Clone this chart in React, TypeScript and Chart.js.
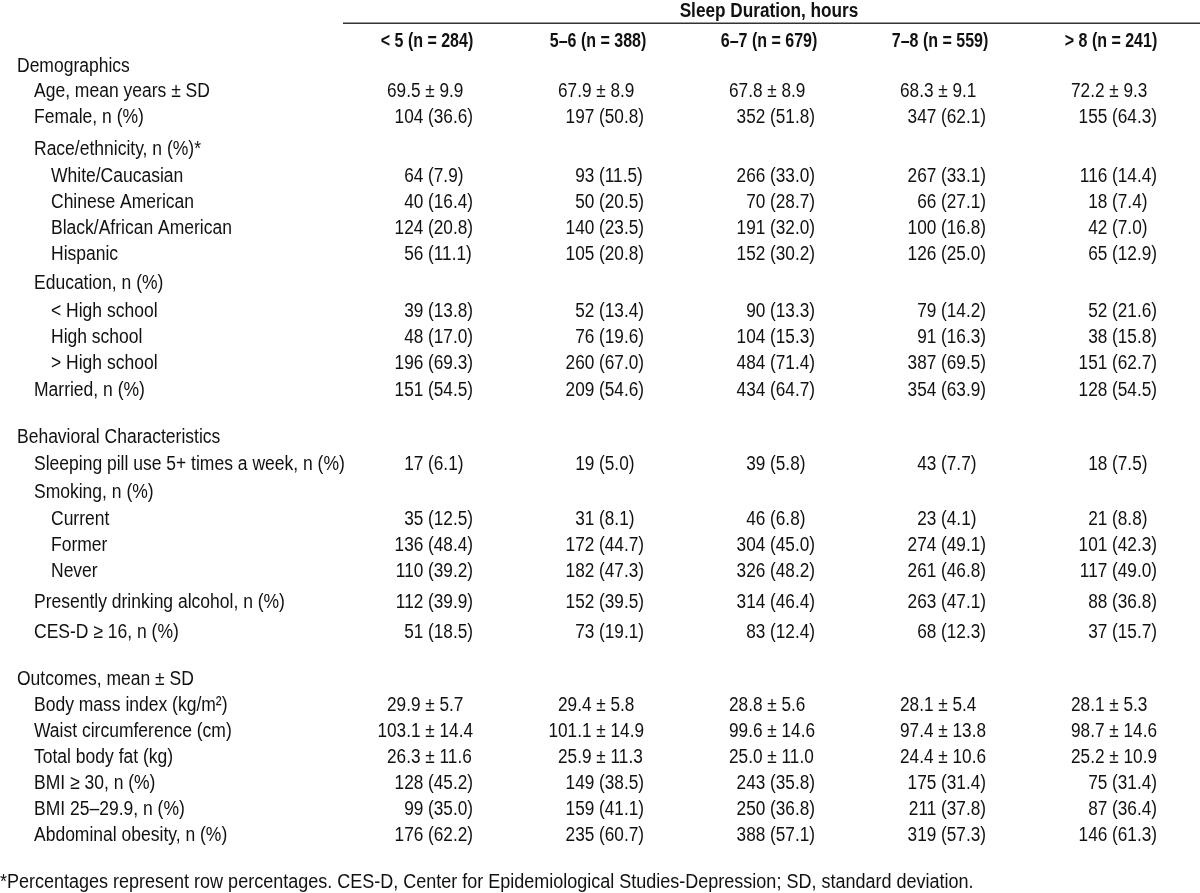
import React, { useEffect, useRef } from "react";
import { Chart, registerables } from "chart.js";

Chart.register(...registerables);

// ---------- data ----------
const spanTitle = "Sleep Duration, hours";
const columnHeaders = ["< 5 (n = 284)", "5–6 (n = 388)", "6–7 (n = 679)", "7–8 (n = 559)", "> 8 (n = 241)"];

const rowLabels = [
  "Demographics",
  "Age, mean years ± SD",
  "Female, n (%)",
  "Race/ethnicity, n (%)*",
  "White/Caucasian",
  "Chinese American",
  "Black/African American",
  "Hispanic",
  "Education, n (%)",
  "< High school",
  "High school",
  "> High school",
  "Married, n (%)",
  "Behavioral Characteristics",
  "Sleeping pill use 5+ times a week, n (%)",
  "Smoking, n (%)",
  "Current",
  "Former",
  "Never",
  "Presently drinking alcohol, n (%)",
  "CES-D ≥ 16, n (%)",
  "Outcomes, mean ± SD",
  "Body mass index (kg/m²)",
  "Waist circumference (cm)",
  "Total body fat (kg)",
  "BMI ≥ 30, n (%)",
  "BMI 25–29.9, n (%)",
  "Abdominal obesity, n (%)",
];

const rowLevels = [0, 1, 1, 1, 2, 2, 2, 2, 1, 2, 2, 2, 1, 0, 1, 1, 2, 2, 2, 1, 1, 0, 1, 1, 1, 1, 1, 1];

const sleepLt5 = [
  "", "69.5 ± 9.9", "104 (36.6)", "", "64 (7.9)", "40 (16.4)", "124 (20.8)", "56 (11.1)",
  "", "39 (13.8)", "48 (17.0)", "196 (69.3)", "151 (54.5)",
  "", "17 (6.1)", "", "35 (12.5)", "136 (48.4)", "110 (39.2)", "112 (39.9)", "51 (18.5)",
  "", "29.9 ± 5.7", "103.1 ± 14.4", "26.3 ± 11.6", "128 (45.2)", "99 (35.0)", "176 (62.2)",
];
const sleep5to6 = [
  "", "67.9 ± 8.9", "197 (50.8)", "", "93 (11.5)", "50 (20.5)", "140 (23.5)", "105 (20.8)",
  "", "52 (13.4)", "76 (19.6)", "260 (67.0)", "209 (54.6)",
  "", "19 (5.0)", "", "31 (8.1)", "172 (44.7)", "182 (47.3)", "152 (39.5)", "73 (19.1)",
  "", "29.4 ± 5.8", "101.1 ± 14.9", "25.9 ± 11.3", "149 (38.5)", "159 (41.1)", "235 (60.7)",
];
const sleep6to7 = [
  "", "67.8 ± 8.9", "352 (51.8)", "", "266 (33.0)", "70 (28.7)", "191 (32.0)", "152 (30.2)",
  "", "90 (13.3)", "104 (15.3)", "484 (71.4)", "434 (64.7)",
  "", "39 (5.8)", "", "46 (6.8)", "304 (45.0)", "326 (48.2)", "314 (46.4)", "83 (12.4)",
  "", "28.8 ± 5.6", "99.6 ± 14.6", "25.0 ± 11.0", "243 (35.8)", "250 (36.8)", "388 (57.1)",
];
const sleep7to8 = [
  "", "68.3 ± 9.1", "347 (62.1)", "", "267 (33.1)", "66 (27.1)", "100 (16.8)", "126 (25.0)",
  "", "79 (14.2)", "91 (16.3)", "387 (69.5)", "354 (63.9)",
  "", "43 (7.7)", "", "23 (4.1)", "274 (49.1)", "261 (46.8)", "263 (47.1)", "68 (12.3)",
  "", "28.1 ± 5.4", "97.4 ± 13.8", "24.4 ± 10.6", "175 (31.4)", "211 (37.8)", "319 (57.3)",
];
const sleepGt8 = [
  "", "72.2 ± 9.3", "155 (64.3)", "", "116 (14.4)", "18 (7.4)", "42 (7.0)", "65 (12.9)",
  "", "52 (21.6)", "38 (15.8)", "151 (62.7)", "128 (54.5)",
  "", "18 (7.5)", "", "21 (8.8)", "101 (42.3)", "117 (49.0)", "88 (36.8)", "37 (15.7)",
  "", "28.1 ± 5.3", "98.7 ± 14.6", "25.2 ± 10.9", "75 (31.4)", "87 (36.4)", "146 (61.3)",
];

const footnote =
  "*Percentages represent row percentages. CES-D, Center for Epidemiological Studies-Depression; SD, standard deviation.";

// ---------- layout (kept apart from the data) ----------
const rowY = [66, 91, 117, 149, 176, 202, 228, 254, 283, 311, 337, 363, 390, 437, 464, 492, 519, 545, 571, 602, 632, 679, 705, 731, 757, 783, 809, 835];
const titleY = 11;
const ruleY = 23;
const headerY = 41;
const footY = 882;
// columns sit at x = 0..4 ; the canvas spans X_MIN..X_MAX
const X_MIN = -427 / 171;
const X_MAX = (1200 - 427) / 171;
const RULE_X0 = (343 - 427) / 171;
const CELL_RIGHT = 46; // px from column centre to right edge of the value block
const INDENT = 17;
const FS = 20;
const SX_LABEL = 0.875;
const SX_CELL = 0.86;
const SX_BOLD = 0.8;
const SX_TITLE = 0.86;
const SX_FOOT = 0.9;
const FAMILY = '"Liberation Sans", Arial, Helvetica, sans-serif';
const INK = "#111";

const columns = [sleepLt5, sleep5to6, sleep6to7, sleep7to8, sleepGt8];

function splitValue(v: string): [string, string, string] {
  const pm = v.indexOf(" ± ");
  if (pm >= 0) return [v.slice(0, pm), "± " + v.slice(pm + 3), "pm"];
  const p = v.indexOf(" (");
  if (p >= 0) return [v.slice(0, p), v.slice(p + 1), "pct"];
  return [v, "", "txt"];
}

function drawText(ctx: CanvasRenderingContext2D, text: string, x: number, y: number, align: string, sx: number) {
  const w = ctx.measureText(text).width * sx;
  const left = align === "left" ? x : align === "right" ? x - w : x - w / 2;
  ctx.save();
  ctx.translate(left, y);
  ctx.scale(sx, 1);
  ctx.textAlign = "left";
  ctx.fillText(text, 0, 0);
  ctx.restore();
}

const tablePlugin = {
  id: "tableText",
  afterDatasetsDraw(chart: any) {
    const ctx: CanvasRenderingContext2D = chart.ctx;
    const xs = chart.scales.x;
    const ys = chart.scales.y;
    const area = chart.chartArea;
    ctx.save();
    ctx.fillStyle = INK;
    ctx.textBaseline = "middle";

    // spanning title
    ctx.font = `bold ${FS}px ${FAMILY}`;
    drawText(ctx, spanTitle, xs.getPixelForValue(2), ys.getPixelForValue(titleY), "center", SX_TITLE);

    // rule
    ctx.strokeStyle = "#333";
    ctx.lineWidth = 1.5;
    ctx.beginPath();
    const ry = Math.round(ys.getPixelForValue(ruleY)) + 0.25;
    ctx.moveTo(xs.getPixelForValue(RULE_X0), ry);
    ctx.lineTo(area.right, ry);
    ctx.stroke();

    // column headers
    columnHeaders.forEach((h, c) => {
      drawText(ctx, h, xs.getPixelForValue(c), ys.getPixelForValue(headerY), "center", SX_BOLD);
    });

    // row labels
    ctx.font = `${FS}px ${FAMILY}`;
    rowLabels.forEach((lab, i) => {
      drawText(ctx, lab, area.left + INDENT * (rowLevels[i] + 1), ys.getPixelForValue(rowY[i]), "left", SX_LABEL);
    });

    // cells: number right-aligned before a shared anchor, bracket / ± part left-aligned after it
    const sp = ctx.measureText(" ").width * SX_CELL;
    chart.data.datasets.forEach((_ds: any, c: number) => {
      const meta = chart.getDatasetMeta(c);
      const vals = columns[c];
      const maxR: Record<string, number> = {};
      vals.forEach((v) => {
        if (!v) return;
        const [, r, t] = splitValue(v);
        maxR[t] = Math.max(maxR[t] || 0, ctx.measureText(r).width * SX_CELL);
      });
      meta.data.forEach((pt: any, i: number) => {
        const v = vals[i];
        if (!v) return;
        const [l, r, t] = splitValue(v);
        const anchor = pt.x + CELL_RIGHT - maxR[t] - sp;
        drawText(ctx, l, anchor, pt.y, "right", SX_CELL);
        drawText(ctx, r, anchor + sp, pt.y, "left", SX_CELL);
      });
    });

    // footnote
    drawText(ctx, footnote, area.left, ys.getPixelForValue(footY), "left", SX_FOOT);
    ctx.restore();
  },
};

export default function App() {
  const ref = useRef<HTMLCanvasElement>(null);
  useEffect(() => {
    let chart: Chart | null = null;
    let cancelled = false;
    const build = () => {
      if (cancelled || !ref.current) return;
      chart = new Chart(ref.current, {
        type: "scatter",
        data: {
          datasets: columns.map((vals, c) => ({
            label: columnHeaders[c],
            data: vals.map((_, i) => ({ x: c, y: rowY[i] })),
            pointRadius: 0,
            pointHoverRadius: 0,
            showLine: false,
          })),
        },
        options: {
          responsive: false,
          animation: false,
          devicePixelRatio: 1,
          layout: { padding: 0 },
          events: [],
          scales: {
            x: { type: "linear", min: X_MIN, max: X_MAX, display: false },
            y: { type: "linear", min: 0, max: 893, reverse: true, display: false },
          },
          plugins: { legend: { display: false }, tooltip: { enabled: false } },
        },
        plugins: [tablePlugin],
      } as any);
    };
    const fonts: any = (document as any).fonts;
    if (fonts && fonts.load) {
      Promise.all([
        fonts.load(`${FS}px "Liberation Sans"`),
        fonts.load(`bold ${FS}px "Liberation Sans"`),
      ]).then(build, build);
    } else build();
    return () => {
      cancelled = true;
      if (chart) chart.destroy();
    };
  }, []);
  return (
    <div style={{ position: "fixed", left: 0, top: 0, width: 1200, height: 893, background: "#fff" }}>
      <canvas ref={ref} width={1200} height={893} style={{ display: "block", width: 1200, height: 893 }} />
    </div>
  );
}
